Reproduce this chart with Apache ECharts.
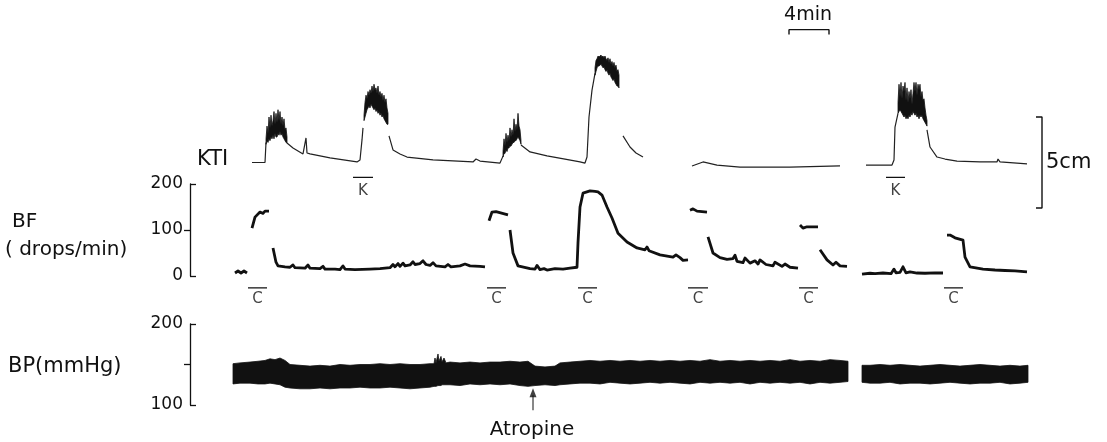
<!DOCTYPE html>
<html lang="en">
<head>
    <meta charset="UTF-8">
    <title>KTI / BF / BP recording</title>
    <script src="https://cdn.jsdelivr.net/npm/echarts@6/dist/echarts.min.js"></script>
    <style>
        html, body { margin: 0; padding: 0; background: #fff; }
        #chart { width: 1107px; height: 442px; }
    </style>
</head>
<body>
    <div id="chart"></div>

    <script>
        // time axis in minutes (4 min scale bar), values read off the tracing
        // KTI thin trace (cm), null = pen gap
        const ktiTime  = [6.2, 7.5, 7.6, 7.6,
            9.7, 10.3, 11.3, 11.5, 11.6, 11.7, 12.0, 14.0, 16.7, 17.0, 17.2, 17.3, 17.3,
            19.9, 20.3, 21.0, 21.7, 24.3, 28.3, 28.6, 29.0, 31.0, 31.3, 31.3,
            33.1, 34.0, 35.7, 37.5, 39.0, 39.5, 39.7, 39.9, 40.2, 40.5, 40.5,
            43.3, 44.0, 44.6, 45.3, 45.3,
            50.2, 51.3, 52.7, 55.0, 60.0, 65.0, 65.0,
            67.6, 70.2, 70.4, 70.5, 70.8, 70.8,
            73.7, 74.0, 74.7, 75.5, 76.7, 79.0, 80.7, 80.8, 81.0, 83.7];
        const ktiValue = [0.0, 0.0, 1.1, null,
            1.07, 0.80, 0.47, 0.52, 1.35, 0.52, 0.47, 0.25, 0.03, 0.14, 1.24, 1.9, null,
            1.46, 0.69, 0.47, 0.30, 0.14, 0.03, 0.19, 0.08, -0.03, 0.35, null,
            0.96, 0.58, 0.36, 0.19, 0.03, -0.03, 0.30, 2.5, 3.98, 4.9, null,
            1.46, 0.85, 0.52, 0.30, null,
            -0.19, 0.03, -0.14, -0.25, -0.25, -0.19, null,
            -0.14, -0.14, 0.14, 1.95, 2.7, null,
            1.79, 0.85, 0.30, 0.19, 0.08, 0.03, 0.03, 0.19, 0.03, -0.08];

        // KTI bursts: upper / lower envelope of the dense oscillation
        const burstTime = [7.6, 7.7, 7.8, 7.9, 8.0, 8.1, 8.2, 8.3, 8.4, 8.5, 8.6, 8.7, 8.8, 8.9, 9.0, 9.1, 9.2, 9.3, 9.4, 9.5, 9.6, 9.7, null,
            17.4, 17.5, 17.6, 17.7, 17.8, 17.9, 18.0, 18.1, 18.2, 18.3, 18.4, 18.5, 18.6, 18.7, 18.8, 18.9, 19.0, 19.1, 19.2, 19.3, 19.4, 19.5, 19.6, 19.7, 19.8, null,
            31.3, 31.4, 31.5, 31.6, 31.7, 31.8, 31.9, 32.0, 32.1, 32.2, 32.3, 32.4, 32.5, 32.6, 32.7, 32.8, 32.9, 33.0, 33.1, null,
            40.5, 40.6, 40.7, 40.8, 40.9, 41.0, 41.1, 41.2, 41.3, 41.4, 41.5, 41.6, 41.7, 41.8, 41.9, 42.0, 42.1, 42.2, 42.3, 42.4, 42.5, 42.6, 42.7, 42.8, 42.9, null,
            70.8, 70.9, 71.0, 71.1, 71.2, 71.3, 71.4, 71.5, 71.6, 71.7, 71.8, 71.9, 72.0, 72.1, 72.2, 72.3, 72.4, 72.5, 72.6, 72.7, 72.8, 72.9, 73.0, 73.1, 73.2, 73.3, 73.4, 73.5, 73.6, 73.7];
        const burstHigh = [1.3, 2.0, 1.6, 2.5, 1.9, 2.6, 2.0, 2.3, 2.8, 2.1, 2.7, 2.2, 2.9, 2.3, 2.8, 2.1, 2.5, 2.0, 2.4, 1.8, 1.9, 1.4, null,
            2.6, 3.3, 3.7, 3.5, 3.9, 3.7, 4.0, 3.8, 4.2, 3.9, 4.3, 4.0, 4.1, 3.8, 4.2, 3.7, 3.9, 3.6, 3.8, 3.4, 3.7, 3.3, 3.5, 3.0, 2.7, null,
            0.6, 1.3, 0.9, 1.6, 1.1, 1.5, 1.2, 1.9, 1.4, 1.8, 1.5, 2.4, 1.7, 2.1, 1.8, 2.7, 2.0, 1.8, 1.2, null,
            5.2, 5.6, 5.7, 5.85, 5.8, 5.85, 5.9, 5.8, 5.85, 5.75, 5.85, 5.7, 5.6, 5.75, 5.5, 5.7, 5.4, 5.55, 5.3, 5.5, 5.2, 5.35, 5.0, 5.1, 4.8, null,
            3.3, 4.3, 3.6, 4.4, 3.5, 4.2, 3.9, 4.4, 3.4, 4.1, 3.3, 3.9, 3.5, 4.0, 3.2, 3.8, 4.4, 3.9, 4.4, 3.7, 4.3, 4.0, 4.3, 3.6, 3.9, 3.4, 3.5, 3.0, 2.6, 2.3];
        const burstLow = [1.0, 1.2, 1.1, 1.3, 1.2, 1.4, 1.3, 1.5, 1.3, 1.6, 1.4, 1.4, 1.6, 1.5, 1.7, 1.5, 1.6, 1.4, 1.3, 1.2, 1.1, 1.07, null,
            2.3, 2.5, 2.7, 2.9, 3.0, 3.1, 3.0, 3.2, 3.1, 3.0, 2.9, 3.0, 2.8, 2.9, 2.7, 2.8, 2.6, 2.7, 2.5, 2.6, 2.4, 2.3, 2.2, 2.1, 2.1, null,
            0.3, 0.5, 0.5, 0.7, 0.6, 0.8, 0.8, 0.9, 0.9, 1.0, 1.1, 1.1, 1.2, 1.2, 1.3, 1.4, 1.3, 1.2, 1.0, null,
            4.8, 5.0, 5.2, 5.3, 5.3, 5.35, 5.4, 5.3, 5.2, 5.25, 5.1, 5.0, 5.1, 4.9, 4.8, 4.9, 4.7, 4.6, 4.5, 4.6, 4.4, 4.3, 4.2, 4.2, 4.1, null,
            2.7, 2.8, 2.9, 2.8, 2.7, 2.6, 2.5, 2.6, 2.4, 2.5, 2.4, 2.6, 2.5, 2.7, 2.6, 2.8, 2.7, 2.6, 2.7, 2.5, 2.6, 2.4, 2.6, 2.5, 2.6, 2.4, 2.3, 2.2, 2.1, 2.0];

        // BF (drops/min)
        const bfTime  = [4.5, 4.8, 5.1, 5.4, 5.7, 5.7,
            6.2, 6.5, 7.0, 7.3, 7.5, 7.9, 7.9,
            8.3, 8.6, 8.8, 9.5, 10.0, 10.3, 10.5, 11.5, 11.8, 12.0, 13.0, 13.3, 13.5, 14.5, 15.0, 15.3, 15.5,
            16.5, 18.0, 19.0, 20.0, 20.3, 20.5, 20.8, 21.0, 21.3, 21.5, 22.0, 22.3, 22.5, 23.0, 23.3, 23.6,
            24.0, 24.3, 24.6, 25.5, 25.8, 26.1, 27.0, 27.5, 28.0, 29.0, 29.5, 29.5,
            29.9, 30.2, 30.6, 31.8, 31.8,
            32.0, 32.3, 32.8, 34.0, 34.5, 34.7, 35.0, 35.4, 35.7, 36.5, 37.3, 38.0, 38.7,
            38.8, 39.0, 39.3, 40.0, 40.5, 40.8, 41.2, 41.7, 42.2, 42.8, 43.7, 44.7, 45.5, 45.7, 45.9,
            47.0, 48.3, 48.6, 49.0, 49.3, 49.8, 49.8,
            50.0, 50.3, 50.7, 51.7, 51.7,
            51.8, 52.3, 53.0, 53.7, 54.3, 54.5, 54.7, 55.3, 55.5, 56.0, 56.5, 56.8, 57.0, 57.6, 58.3, 58.5,
            59.2, 59.5, 60.0, 60.8, 60.8,
            61.0, 61.3, 61.7, 62.8, 62.8,
            63.0, 63.7, 64.3, 64.6, 65.0, 65.7, 65.7,
            67.2, 68.0, 68.5, 69.3, 70.1, 70.4, 70.6, 71.0, 71.3, 71.6, 72.0, 72.7, 73.5, 74.5, 75.3, 75.3,
            75.7, 76.0, 76.5, 77.3, 77.5, 78.0, 79.3, 80.5, 81.5, 82.5, 83.7];
        const bfValue = [6.5, 10.9, 6.5, 10.9, 6.5, null,
            104, 128, 139, 136, 141, 141, null,
            61, 30, 22, 20, 19, 24, 18, 17, 24, 17, 16, 21, 15, 15, 14, 22, 15,
            14, 15, 16, 18, 25, 20, 27, 21, 28, 22, 24, 31, 25, 27, 33, 25,
            23, 29, 22, 20, 25, 20, 22, 26, 22, 21, 20, null,
            120, 139, 140, 133, null,
            100, 50, 22, 16, 15, 23, 14, 16, 13, 16, 15, 17, 19,
            72, 150, 180, 185, 184, 183, 176, 150, 126, 93, 74, 61, 57, 63, 55,
            46, 41, 46, 40, 34, 35, null,
            143, 146, 141, 139, null,
            85, 50, 40, 36, 38, 45, 32, 29, 39, 28, 33, 26, 35, 25, 22, 30,
            21, 26, 19, 17, null,
            111, 104, 107, 107, null,
            57, 35, 24, 30, 22, 21, null,
            4, 6, 5, 6.5, 5, 15, 7, 8, 20, 7, 9, 6.5, 6, 7, 6.5, null,
            89, 89, 83, 78, 41, 20, 15, 13, 12, 11, 9];

        // BP (mmHg): envelope of the pulse band
        const bpTime = [4.3, 5.0, 6.0, 6.8, 7.5, 8.0, 8.5, 9.0, 9.5, 10.0, 11.0, 12.0, 13.0, 14.0, 15.0, 16.0,
            17.0, 18.0, 19.0, 20.0, 21.0, 22.0, 23.0, 24.0, 24.4, 24.5, 24.6, 24.8, 24.9, 25.1, 25.2, 25.4, 25.6,
            26.0, 27.0, 28.0, 29.0, 30.0, 31.0, 32.0, 33.0, 33.8, 34.5, 35.5, 36.5, 37.0, 38.0, 39.0, 40.0,
            41.0, 42.0, 43.0, 44.0, 45.0, 46.0, 47.0, 48.0, 49.0, 50.0, 51.0, 52.0, 53.0, 54.0, 55.0, 56.0,
            57.0, 58.0, 59.0, 60.0, 61.0, 62.0, 63.0, 64.0, 65.0, 65.8, null,
            67.2, 68.0, 69.0, 70.0, 71.0, 72.0, 73.0, 74.0, 75.0, 76.0, 77.0, 78.0, 79.0, 80.0, 81.0, 82.0, 83.0, 83.8];
        const bpHigh = [151, 152, 153, 154, 155, 157, 156, 158, 155, 150, 149, 148, 149, 148, 150, 149,
            150, 150, 151, 150, 151, 150, 150, 151, 151, 158, 152, 163, 154, 160, 153, 158, 152,
            153, 152, 153, 152, 153, 153, 154, 153, 154, 148, 147, 148, 152, 153, 154, 155,
            154, 155, 154, 155, 154, 155, 154, 155, 154, 155, 154, 156, 154, 155, 154, 155,
            154, 155, 154, 156, 154, 155, 154, 156, 155, 154, null,
            149, 149, 150, 149, 150, 149, 148, 149, 150, 149, 148, 149, 150, 149, 148, 149, 148, 149];
        const bpLow = [126, 127, 127, 126, 126, 127, 126, 125, 122, 121, 120, 120, 121, 120, 121, 121,
            122, 121, 121, 122, 121, 120, 121, 122, 123, 123, 123, 124, 124, 124, 125, 125, 125,
            125, 124, 126, 125, 126, 125, 126, 124, 123, 124, 125, 124, 125, 126, 127, 127,
            126, 128, 127, 126, 127, 128, 127, 128, 127, 126, 128, 127, 128, 127, 128, 126,
            128, 127, 128, 127, 128, 126, 128, 127, 128, 129, null,
            128, 127, 127, 128, 126, 127, 127, 126, 127, 128, 127, 126, 127, 127, 128, 126, 127, 128];

        // stimulus markers
        const cStart = [5.8, 29.7, 38.8, 49.8, 60.9, 75.4];
        const cEnd   = [7.7, 31.6, 40.7, 51.8, 62.8, 77.3];
        const kStart = [16.3, 69.6];
        const kEnd   = [18.3, 71.5];
        const atropineTime = 34.3;

        const bfTicks = [0, 100, 200];
        const bpTicks = [100, 200];

        const FONT = 'DejaVu Sans';
        const INK = '#111';

        // split parallel arrays on null into envelope segments
        function segments(t, hi, lo) {
            const out = [];
            let cur = { t: [], h: [], l: [] };
            t.forEach((v, i) => {
                if (v === null) { out.push(cur); cur = { t: [], h: [], l: [] }; return; }
                cur.t.push(v); cur.h.push(hi[i]); cur.l.push(lo[i]);
            });
            out.push(cur);
            return out;
        }
        function bandSeries(segs, xi, yi) {
            return {
                type: 'custom', xAxisIndex: xi, yAxisIndex: yi, silent: true,
                data: segs.map(s => [s.t[0], s.l[0]]),
                renderItem: function (params, api) {
                    const s = segs[params.dataIndex];
                    const pts = [];
                    s.t.forEach((t, i) => pts.push(api.coord([t, s.h[i]])));
                    for (let i = s.t.length - 1; i >= 0; i--) pts.push(api.coord([s.t[i], s.l[i]]));
                    return { type: 'polygon', shape: { points: pts }, style: { fill: INK, stroke: INK, lineWidth: 0.8 } };
                }
            };
        }
        function barData(starts, ends, y) {
            const d = [];
            starts.forEach((s, i) => { d.push([s, y], [ends[i], y], [ends[i], null]); });
            return d;
        }

        const burstSegs = segments(burstTime, burstHigh, burstLow);
        const bpSegs = segments(bpTime, bpHigh, bpLow);

        const gridBase = { left: 190, width: 880 };
        const xBase = { type: 'value', min: 0, max: 88, show: false };

        const chart = echarts.init(document.getElementById('chart'));
        const option = {
            animation: false,
            backgroundColor: '#fff',
            grid: [
                Object.assign({ top: 26, height: 182 }, gridBase),
                Object.assign({ top: 184, height: 92 }, gridBase),
                Object.assign({ top: 324, height: 81 }, gridBase)
            ],
            xAxis: [
                Object.assign({ gridIndex: 0 }, xBase),
                Object.assign({ gridIndex: 1 }, xBase),
                Object.assign({ gridIndex: 2 }, xBase)
            ],
            yAxis: [
                { gridIndex: 0, type: 'value', min: -2.5, max: 7.5, show: false },
                {
                    gridIndex: 1, type: 'value', min: 0, max: 200, interval: 100, position: 'left',
                    axisLine: { show: true, lineStyle: { color: INK, width: 1.3 } },
                    axisTick: { show: true, inside: true, length: 6, customValues: [bfTicks[0], bfTicks[2]], lineStyle: { color: INK, width: 1.3 } },
                    axisLabel: { color: INK, fontFamily: FONT, fontSize: 17, margin: 7, customValues: bfTicks },
                    splitLine: { show: false }
                },
                {
                    gridIndex: 1, type: 'value', min: 0, max: 200, position: 'left',
                    axisLine: { show: false },
                    axisTick: { show: true, inside: false, length: 6, customValues: [bfTicks[1]], lineStyle: { color: INK, width: 1.3 } },
                    axisLabel: { show: false }, splitLine: { show: false }
                },
                {
                    gridIndex: 2, type: 'value', min: 100, max: 200, interval: 50, position: 'left',
                    axisLine: { show: true, lineStyle: { color: INK, width: 1.3 } },
                    axisTick: { show: true, inside: true, length: 6, customValues: bpTicks, lineStyle: { color: INK, width: 1.3 } },
                    axisLabel: { color: INK, fontFamily: FONT, fontSize: 17, margin: 7, customValues: bpTicks },
                    splitLine: { show: false }
                },
                {
                    gridIndex: 2, type: 'value', min: 100, max: 200, position: 'left',
                    axisLine: { show: false },
                    axisTick: { show: true, inside: false, length: 6, customValues: [150], lineStyle: { color: INK, width: 1.3 } },
                    axisLabel: { show: false }, splitLine: { show: false }
                }
            ],
            series: [
                {
                    name: 'KTI', type: 'line', xAxisIndex: 0, yAxisIndex: 0, symbol: 'none',
                    data: ktiTime.map((t, i) => [t, ktiValue[i]]),
                    lineStyle: { color: '#222', width: 1.2 }, silent: true
                },
                bandSeries(burstSegs, 0, 0),
                {
                    name: 'BF', type: 'line', xAxisIndex: 1, yAxisIndex: 1, symbol: 'none',
                    data: bfTime.map((t, i) => [t, bfValue[i]]),
                    lineStyle: { color: INK, width: 2.8, join: 'round' }, silent: true
                },
                bandSeries(bpSegs, 2, 3),
                {
                    name: 'K bars', type: 'line', xAxisIndex: 0, yAxisIndex: 0, symbol: 'none', clip: false,
                    data: barData(kStart, kEnd, -0.82), lineStyle: { color: INK, width: 1.3 }, silent: true
                },
                {
                    name: 'C bars', type: 'line', xAxisIndex: 1, yAxisIndex: 1, symbol: 'none', clip: false,
                    data: barData(cStart, cEnd, -26), lineStyle: { color: INK, width: 1.3 }, silent: true
                },
                {
                    type: 'scatter', xAxisIndex: 0, yAxisIndex: 0, clip: false, symbolSize: 4, silent: true,
                    itemStyle: { color: 'transparent' },
                    data: kStart.map((s, i) => [(s + kEnd[i]) / 2, -1.55]),
                    label: { show: true, position: 'inside', formatter: 'K', color: INK, fontFamily: FONT, fontSize: 15 }
                },
                {
                    type: 'scatter', xAxisIndex: 1, yAxisIndex: 1, clip: false, symbolSize: 4, silent: true,
                    itemStyle: { color: 'transparent' },
                    data: cStart.map((s, i) => [(s + cEnd[i]) / 2, -50]),
                    label: { show: true, position: 'inside', formatter: 'C', color: INK, fontFamily: FONT, fontSize: 15 }
                },
                {
                    // 4 min time bar
                    type: 'line', xAxisIndex: 0, yAxisIndex: 0, symbol: 'none', clip: false, silent: true,
                    data: [[59.9, 7.03], [59.9, 7.3], [63.9, 7.3], [63.9, 7.03]],
                    lineStyle: { color: INK, width: 1.4 }
                },
                {
                    // 5 cm calibration bracket
                    type: 'line', xAxisIndex: 0, yAxisIndex: 0, symbol: 'none', clip: false, silent: true,
                    data: [[84.6, 2.5], [85.2, 2.5], [85.2, -2.5], [84.6, -2.5]],
                    lineStyle: { color: INK, width: 1.4 }
                },
                {
                    // atropine arrow
                    type: 'line', xAxisIndex: 2, yAxisIndex: 3, symbol: 'none', clip: false, silent: true,
                    data: [[atropineTime, 93.5], [atropineTime, 112]],
                    lineStyle: { color: INK, width: 1 }
                },
                {
                    type: 'scatter', xAxisIndex: 2, yAxisIndex: 3, clip: false, silent: true,
                    symbol: 'triangle', symbolSize: [7, 9],
                    data: [[atropineTime, 115]], itemStyle: { color: INK }
                }
            ],
            graphic: [
                { type: 'text', x: 197, y: 160, style: { text: 'KTI', font: '21px ' + FONT, fill: INK, align: 'left', verticalAlign: 'middle' } },
                { type: 'text', x: 12, y: 222, style: { text: 'BF', font: '20px ' + FONT, fill: INK, align: 'left', verticalAlign: 'middle' } },
                { type: 'text', x: 5, y: 250, style: { text: '( drops/min)', font: '20px ' + FONT, fill: INK, align: 'left', verticalAlign: 'middle' } },
                { type: 'text', x: 8, y: 367, style: { text: 'BP(mmHg)', font: '21px ' + FONT, fill: INK, align: 'left', verticalAlign: 'middle' } },
                { type: 'text', x: 1046, y: 163, style: { text: '5cm', font: '21px ' + FONT, fill: INK, align: 'left', verticalAlign: 'middle' } },
                { type: 'text', x: 808, y: 15, style: { text: '4min', font: '19px ' + FONT, fill: INK, align: 'center', verticalAlign: 'middle' } },
                { type: 'text', x: 532, y: 430, style: { text: 'Atropine', font: '20px ' + FONT, fill: INK, align: 'center', verticalAlign: 'middle' } }
            ]
        };
        chart.setOption(option);
    </script>
</body>
</html>
